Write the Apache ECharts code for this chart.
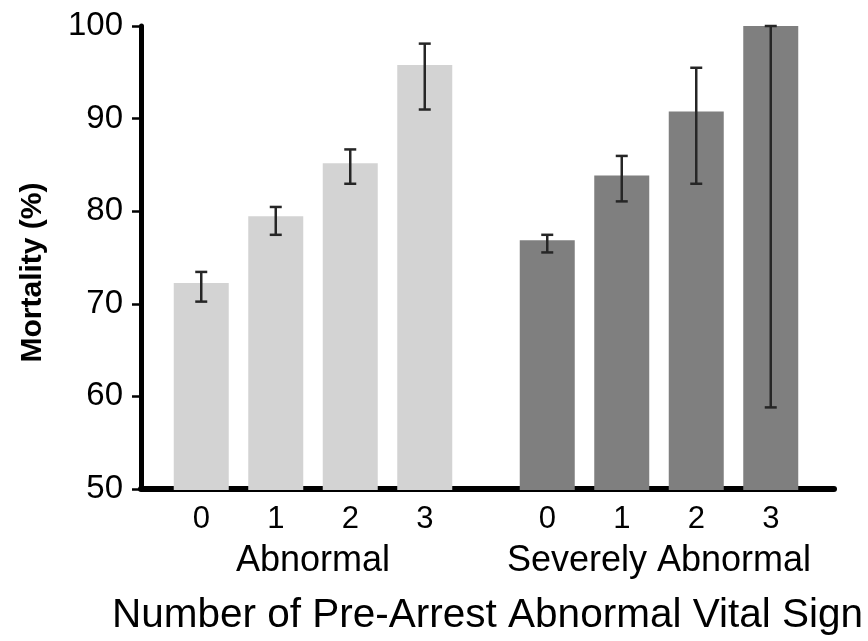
<!DOCTYPE html>
<html>
<head>
<meta charset="utf-8">
<script src="https://cdn.jsdelivr.net/npm/echarts@6/dist/echarts.min.js"></script>
<style>
html,body{margin:0;padding:0;background:#fff;}
#chart{width:868px;height:641px;}
</style>
</head>
<body>
<div id="chart"></div>
<script>
const categories = ['0', '1', '2', '3'];
const groupNames = ['Abnormal', 'Severely Abnormal'];
const abnormalMean = [72.3, 79.5, 85.2, 95.8];
const abnormalLow = [70.3, 77.5, 83.0, 91.0];
const abnormalHigh = [73.5, 80.5, 86.7, 98.1];
const severeMean = [76.9, 83.9, 90.8, 100];
const severeLow = [75.6, 81.1, 83.0, 58.9];
const severeHigh = [77.5, 86.0, 95.5, 100];
const yMin = 50, yMax = 100, yStep = 10;
const xTitle = 'Number of Pre-Arrest Abnormal Vital Sign';
const yTitle = 'Mortality (%)';

const FONT = '"Liberation Sans", Arial, Helvetica, sans-serif';

function errRender(params, api) {
  const x = api.value(0), lo = api.value(1), hi = api.value(2);
  const pLo = api.coord([x, lo]);
  const pHi = api.coord([x, hi]);
  const hw = 6;
  const st = {stroke: '#262626', lineWidth: 2.5};
  return {
    type: 'group',
    children: [
      {type: 'line', shape: {x1: pLo[0], y1: pLo[1], x2: pHi[0], y2: pHi[1]}, style: st},
      {type: 'line', shape: {x1: pLo[0] - hw, y1: pLo[1], x2: pLo[0] + hw, y2: pLo[1]}, style: st},
      {type: 'line', shape: {x1: pHi[0] - hw, y1: pHi[1], x2: pHi[0] + hw, y2: pHi[1]}, style: st}
    ]
  };
}

const hiddenY = (gi) => ({
  type: 'value', gridIndex: gi, min: yMin, max: yMax, interval: yStep, show: false
});
const catX = (gi, name) => ({
  type: 'category', gridIndex: gi, data: categories,
  axisLine: {show: false}, axisTick: {show: false}, splitLine: {show: false},
  axisLabel: {fontSize: 31, color: '#000', fontFamily: FONT, margin: 14},
  name: name, nameLocation: 'middle', nameGap: 53,
  nameTextStyle: {fontSize: 36, color: '#000', fontFamily: FONT}
});

const option = {
  animation: false,
  backgroundColor: '#fff',
  grid: [
    {left: 141, right: 34, top: 26, bottom: 151},
    {left: 164, width: 298, top: 26, bottom: 151},
    {left: 510, width: 298, top: 26, bottom: 151}
  ],
  xAxis: [
    {
      type: 'value', gridIndex: 0, min: 0, max: 1,
      axisLine: {show: true, onZero: false, lineStyle: {color: '#000', width: 6}},
      axisTick: {show: false}, axisLabel: {show: false}, splitLine: {show: false},
      name: xTitle, nameLocation: 'middle', nameGap: 106,
      nameTextStyle: {fontSize: 40.5, color: '#000', fontFamily: FONT}
    },
    catX(1, groupNames[0]),
    catX(2, groupNames[1])
  ],
  yAxis: [
    {
      type: 'value', gridIndex: 0, min: yMin, max: yMax, interval: yStep,
      axisLine: {show: true, lineStyle: {color: '#000', width: 5}},
      axisTick: {show: true, length: 9, lineStyle: {color: '#000', width: 2.5}},
      splitLine: {show: false},
      axisLabel: {fontSize: 33, color: '#000', fontFamily: FONT, margin: 18},
      name: yTitle, nameLocation: 'middle', nameGap: 93,
      nameTextStyle: {fontSize: 30, fontWeight: 'bold', color: '#000', fontFamily: FONT, padding: [0, 30, 0, 0]}
    },
    hiddenY(1),
    hiddenY(2)
  ],
  series: [
    {
      type: 'bar', xAxisIndex: 1, yAxisIndex: 1, data: abnormalMean,
      barWidth: 55, itemStyle: {color: '#d3d3d3'}, z: 2
    },
    {
      type: 'bar', xAxisIndex: 2, yAxisIndex: 2, data: severeMean,
      barWidth: 55, itemStyle: {color: '#7f7f7f'}, z: 2
    },
    {
      type: 'custom', xAxisIndex: 1, yAxisIndex: 1, renderItem: errRender, z: 5,
      encode: {x: 0, y: [1, 2]},
      data: categories.map((c, i) => [i, abnormalLow[i], abnormalHigh[i]])
    },
    {
      type: 'custom', xAxisIndex: 2, yAxisIndex: 2, renderItem: errRender, z: 5,
      encode: {x: 0, y: [1, 2]},
      data: categories.map((c, i) => [i, severeLow[i], severeHigh[i]])
    }
  ]
};

const chart = echarts.init(document.getElementById('chart'), null, {renderer: 'canvas'});
chart.setOption(option);
</script>
</body>
</html>
